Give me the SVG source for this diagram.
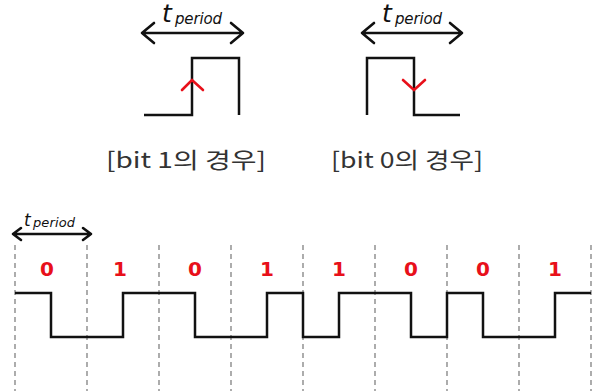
<svg xmlns="http://www.w3.org/2000/svg" width="593" height="391" viewBox="0 0 593 391">
  <defs>
    <style>
      .wave { fill: none; stroke: #111; stroke-width: 2.5; stroke-linejoin: miter; }
      .arrow { fill: none; stroke: #111; stroke-width: 2.6; stroke-linecap: round; stroke-linejoin: round; }
      .edge { fill: none; stroke: #e8101a; stroke-width: 2.6; stroke-linecap: round; }
      .grid { stroke: #8a8a8a; stroke-width: 1.4; stroke-dasharray: 5 4; }
      .tl { font-family: "DejaVu Sans", Verdana, sans-serif; font-style: italic; fill: #111; }
      .cap { font-family: "Noto Sans CJK KR", "Noto Sans", sans-serif; font-size: 22px; fill: #333; }
      .bit { font-family: "DejaVu Sans", Verdana, sans-serif; font-weight: bold; font-size: 20px; fill: #e8101a; text-anchor: middle; }
    </style>
  </defs>

  <!-- bit 1: low-to-high transition in mid period -->
  <g id="bit1-example">
    <path class="arrow" d="M142,33 H243 M154,23 L142,33 L154,43 M231,23 L243,33 L231,43"/>
    <text class="tl" x="162" y="22" font-size="25">t</text>
    <text class="tl" x="175" y="24" font-size="15" textLength="47">period</text>
    <path class="wave" d="M144,115 H192 V58 H239 V115"/>
    <path class="edge" d="M182,90 L192,80 L203,90"/>
    <text class="cap" x="106" y="168" textLength="160" lengthAdjust="spacingAndGlyphs">[bit 1의 경우]</text>
  </g>

  <!-- bit 0: high-to-low transition in mid period -->
  <g id="bit0-example">
    <path class="arrow" d="M362,33 H462 M374,23 L362,33 L374,43 M450,23 L462,33 L450,43"/>
    <text class="tl" x="382" y="22" font-size="25">t</text>
    <text class="tl" x="395" y="24" font-size="15" textLength="47">period</text>
    <path class="wave" d="M367,115 V58 H414 V115 H460"/>
    <path class="edge" d="M403,80 L414,90 L425,80"/>
    <text class="cap" x="331" y="168" textLength="152" lengthAdjust="spacingAndGlyphs">[bit 0의 경우]</text>
  </g>

  <!-- bit period boundaries -->
  <g id="grid">
    <line class="grid" x1="15" y1="245" x2="15" y2="391"/>
    <line class="grid" x1="87" y1="245" x2="87" y2="391"/>
    <line class="grid" x1="159" y1="245" x2="159" y2="391"/>
    <line class="grid" x1="231" y1="245" x2="231" y2="391"/>
    <line class="grid" x1="303" y1="245" x2="303" y2="391"/>
    <line class="grid" x1="375" y1="245" x2="375" y2="391"/>
    <line class="grid" x1="447" y1="245" x2="447" y2="391"/>
    <line class="grid" x1="519" y1="245" x2="519" y2="391"/>
    <line class="grid" x1="591" y1="245" x2="591" y2="391"/>
  </g>

  <!-- period marker for the stream -->
  <g id="stream-period">
    <path class="arrow" d="M13,234 H91 M21,228 L13,234 L21,240 M83,228 L91,234 L83,240" stroke-width="2.2"/>
    <text class="tl" x="24" y="226" font-size="17">t</text>
    <text class="tl" x="33" y="227" font-size="13" textLength="42">period</text>
  </g>

  <!-- bit values -->
  <g id="bits">
    <text class="bit" x="47" y="276">0</text>
    <text class="bit" x="120" y="276">1</text>
    <text class="bit" x="195" y="276">0</text>
    <text class="bit" x="267" y="276">1</text>
    <text class="bit" x="339" y="276">1</text>
    <text class="bit" x="411" y="276">0</text>
    <text class="bit" x="483" y="276">0</text>
    <text class="bit" x="555" y="276">1</text>
  </g>

  <!-- Manchester encoded stream: 0 1 0 1 1 0 0 1 -->
  <g id="stream">
    <path class="wave" d="M15,293 H51 V337 H123 V293 H195 V337 H267 V293 H303 V337 H339 V293 H411 V337 H447 V293 H483 V337 H555 V293 H591"/>
  </g>
</svg>
